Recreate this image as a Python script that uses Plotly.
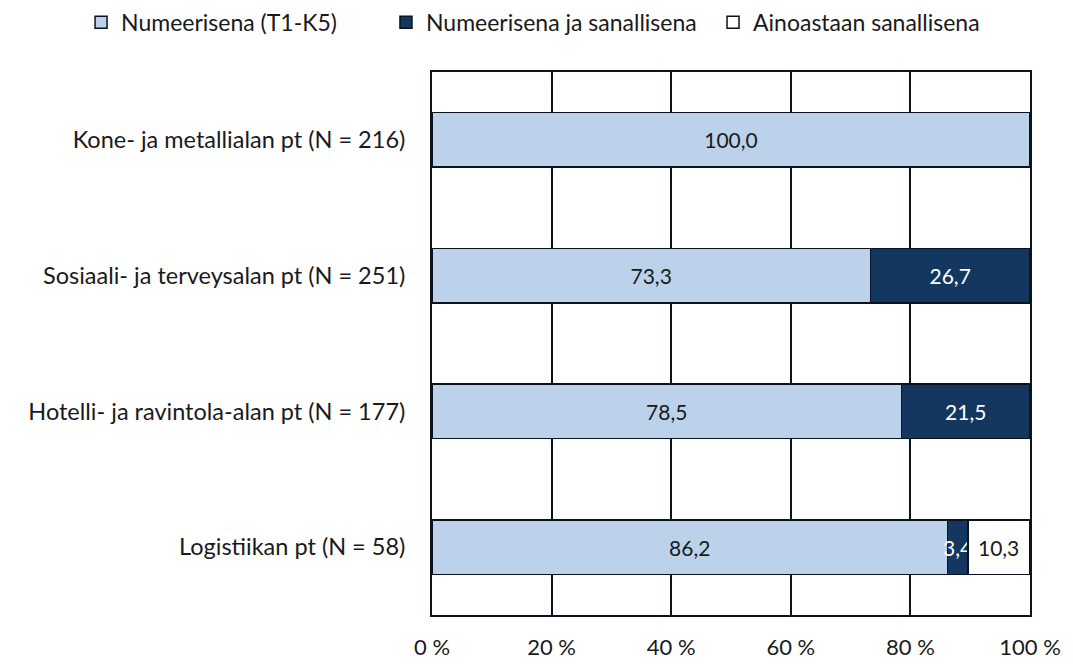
import plotly.graph_objects as go

categories = [
    "Kone- ja metallialan pt (N = 216)",
    "Sosiaali- ja terveysalan pt (N = 251)",
    "Hotelli- ja ravintola-alan pt (N = 177)",
    "Logistiikan pt (N = 58)",
]
series_names = ["Numeerisena (T1-K5)", "Numeerisena ja sanallisena", "Ainoastaan sanallisena"]
numeerisena = [100.0, 73.3, 78.5, 86.2]
num_ja_sanallisena = [0.0, 26.7, 21.5, 3.4]
ainoastaan_sanallisena = [0.0, 0.0, 0.0, 10.3]
tick_vals = [0, 20, 40, 60, 80, 100]
tick_labels = ["0 %", "20 %", "40 %", "60 %", "80 %", "100 %"]

colors = ["#BCD2EA", "#13375F", "#FFFFFF"]
text_colors = ["#1A1A1A", "#FFFFFF", "#1A1A1A"]
legend_ids = ["legend", "legend2", "legend3"]
legend_x = [0.0686, 0.3549, 0.6620]
FONT = "Lato"


def fmt(v):
    return "" if v == 0 else f"{v:.1f}".replace(".", ",")


fig = go.Figure()
for name, vals, col, tcol, lid in zip(series_names,
                                      [numeerisena, num_ja_sanallisena, ainoastaan_sanallisena],
                                      colors, text_colors, legend_ids):
    fig.add_trace(go.Bar(
        y=categories, x=vals, name=name, orientation="h", legend=lid,
        marker=dict(color=col, line=dict(color="#0B1220", width=1.5)),
        text=[fmt(v) for v in vals], textposition="inside",
        insidetextanchor="middle", textangle=0, constraintext="none",
        textfont=dict(color=tcol, size=21, family=FONT),
        hoverinfo="x+y+name", cliponaxis=False,
    ))

legend_common = dict(orientation="h", xanchor="left", xref="container",
                     y=1.131, yanchor="top", yref="paper",
                     font=dict(size=23, family=FONT), bgcolor="rgba(0,0,0,0)")

# The page body has an 8px default margin, so the figure is sized to fill the
# remaining window area exactly.
fig.update_layout(
    barmode="stack", bargap=0.6,
    width=1065, height=656,
    margin=dict(l=424, r=43, t=64, b=49, autoexpand=False),
    paper_bgcolor="white", plot_bgcolor="white",
    font=dict(family=FONT, size=23, color="#1A1A1A"),
    legend=dict(x=legend_x[0], **legend_common),
    legend2=dict(x=legend_x[1], **legend_common),
    legend3=dict(x=legend_x[2], **legend_common),
    showlegend=True,
)
fig.update_xaxes(range=[0, 100], tickvals=tick_vals, ticktext=tick_labels,
                 showgrid=True, gridcolor="#0B1220", gridwidth=1.5,
                 showline=True, linecolor="#0B1220", linewidth=2, mirror=True,
                 ticks="", ticklabelstandoff=12, zeroline=False, automargin=False,
                 tickfont=dict(size=22))
fig.update_yaxes(autorange="reversed", showline=True, linecolor="#0B1220",
                 linewidth=2, mirror=True, ticks="", ticklabelstandoff=20,
                 showgrid=False, automargin=False, tickfont=dict(size=23.5))

fig.write_html("out.html")
